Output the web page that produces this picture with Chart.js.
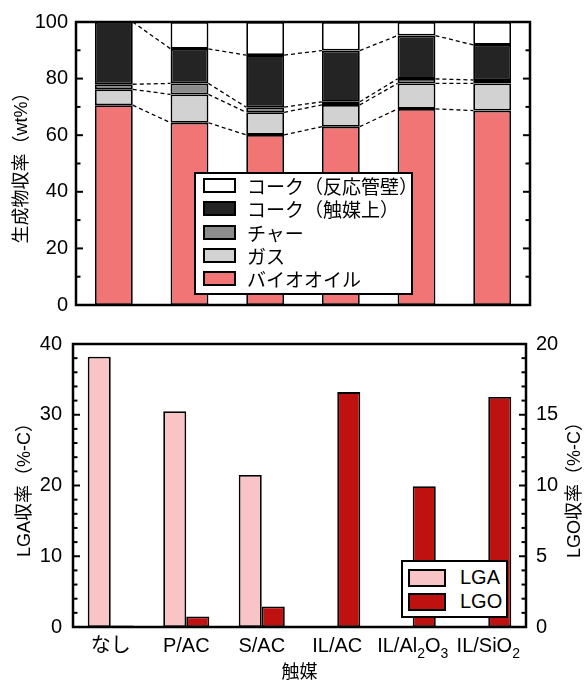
<!DOCTYPE html>
<html>
<head>
<meta charset="utf-8">
<script src="https://cdn.jsdelivr.net/npm/chart.js@4.4.1/dist/chart.umd.min.js"></script>
<style>
body { margin: 0; background: #fff; width: 585px; height: 682px; overflow: hidden; position: relative;
       font-family: "Liberation Sans", Arial, "Noto Sans CJK JP", sans-serif; }
#topChart { position: absolute; left: 0; top: 0; }
#bottomChart { position: absolute; left: 0; top: 320px; }
.legend { position: absolute; background: #fff; border: 2px solid #000; box-sizing: border-box; color: #000; }
.legend .row { display: flex; align-items: center; white-space: nowrap; }
.legend .sw { box-sizing: border-box; border: 2px solid #000; flex: none; }
</style>
</head>
<body>
<canvas id="topChart" width="585" height="320"></canvas>
<canvas id="bottomChart" width="585" height="362"></canvas>
<div id="topLegend" class="legend"></div>
<div id="bottomLegend" class="legend"></div>
<script>
// 触媒（共通のカテゴリ）
const catalysts = ['なし', 'P/AC', 'S/AC', 'IL/AC', 'IL/Al₂O₃', 'IL/SiO₂'];

// 上段：生成物収率 (wt%)、下から積み上げ
const bioOil       = [70.6, 64.4, 60.1, 63.0, 69.3, 68.7];
const gas          = [5.6, 10.0, 8.0, 7.7, 9.0, 9.6];
const charYield    = [1.8, 3.9, 1.8, 1.1, 1.6, 1.2];
const cokeCatalyst = [22.0, 12.2, 18.4, 18.1, 15.3, 12.4];
const cokeWall     = [0, 9.5, 11.7, 10.1, 4.8, 8.1];
const productLabels = ['バイオオイル', 'ガス', 'チャー', 'コーク（触媒上）', 'コーク（反応管壁）'];

// 下段：LGA / LGO 収率 (%-C)
const lgaYield = [38.2, 30.5, 21.5, 0, 0, 0];
const lgoYield = [0.1, 0.75, 1.45, 16.6, 9.95, 16.25];

// 軸の範囲と目盛り
const topTicks = [0, 20, 40, 60, 80, 100];
const lgaTicks = [0, 10, 20, 30, 40];
const lgoTicks = [0, 5, 10, 15, 20];

const productColors = ['#F27575', '#D2D2D2', '#8C8C8C', '#242424', '#FFFFFF'];
const LATIN = '"Liberation Sans", Arial, "Noto Sans CJK JP", sans-serif';
const CJK = '"Liberation Sans", "Noto Sans CJK JP", sans-serif';

Chart.defaults.color = '#000';
Chart.defaults.animation = false;

// 軸の幅を固定して、ラベルの余白を無効にする
function fixWidth(w) {
    return s => {
        s.width = w;
        s.paddingTop = 0;
        s.paddingBottom = 0;
    };
}

// 枠と内向きの目盛り
const framePlugin = {
    id: 'frame',
    afterDraw(chart, args, opts) {
        const { ctx, chartArea: a } = chart;
        ctx.save();
        ctx.strokeStyle = '#000';
        ctx.lineWidth = 2;
        (opts.ticks || []).forEach(t => {
            const scale = chart.scales[t.axis];
            const n = Math.round((scale.max - scale.min) / t.minor);
            for (let k = 0; k <= n; k++) {
                const v = scale.min + k * t.minor;
                const y = scale.getPixelForValue(v);
                const major = Math.abs(v / t.major - Math.round(v / t.major)) < 1e-6;
                const len = major ? 7 : 4.5;
                ctx.beginPath();
                if (t.side === 'left') { ctx.moveTo(a.left, y); ctx.lineTo(a.left + len, y); }
                else { ctx.moveTo(a.right, y); ctx.lineTo(a.right - len, y); }
                ctx.stroke();
            }
        });
        ctx.lineWidth = 2.5;
        ctx.strokeRect(a.left, a.top, a.right - a.left, a.bottom - a.top);
        ctx.restore();
    }
};

// 棒の間の破線
const connectorPlugin = {
    id: 'connectors',
    afterDatasetsDraw(chart) {
        const ctx = chart.ctx;
        ctx.save();
        ctx.strokeStyle = '#000';
        ctx.lineWidth = 1.3;
        ctx.setLineDash([4, 3]);
        for (let d = 0; d < 4; d++) {
            const bars = chart.getDatasetMeta(d).data;
            for (let i = 0; i < bars.length - 1; i++) {
                const p = bars[i], q = bars[i + 1];
                ctx.beginPath();
                ctx.moveTo(p.x + p.width / 2, p.y);
                ctx.lineTo(q.x - q.width / 2, q.y);
                ctx.stroke();
            }
        }
        ctx.restore();
    }
};

// 下付き文字つきのx軸ラベルと右軸タイトル
const SUBS = '₀₁₂₃₄₅₆₇₈₉';
const bottomTextPlugin = {
    id: 'bottomText',
    afterDraw(chart) {
        const { ctx, chartArea: a } = chart;
        const xs = chart.scales.x;
        ctx.save();
        ctx.fillStyle = '#000';
        ctx.textBaseline = 'middle';
        ctx.textAlign = 'left';
        const y = xs.top + 19;
        chart.data.labels.forEach((label, i) => {
            const parts = [];
            for (const ch of label) {
                const idx = SUBS.indexOf(ch);
                const sub = idx >= 0;
                const c = sub ? String(idx) : ch;
                const last = parts[parts.length - 1];
                if (last && last.sub === sub) last.t += c; else parts.push({ t: c, sub });
            }
            let w = 0;
            parts.forEach(p => {
                ctx.font = p.sub ? '14px ' + LATIN : '20px ' + LATIN;
                p.w = ctx.measureText(p.t).width;
                w += p.w;
            });
            let cx = xs.getPixelForValue(i) - w / 2;
            parts.forEach(p => {
                ctx.font = p.sub ? '14px ' + LATIN : '20px ' + LATIN;
                ctx.fillText(p.t, cx, p.sub ? y + 8 : y);
                cx += p.w;
            });
        });
        // 右軸タイトル
        ctx.font = '18px ' + CJK;
        ctx.textAlign = 'center';
        ctx.translate(575, (a.top + a.bottom) / 2);
        ctx.rotate(-Math.PI / 2);
        ctx.fillText('LGO収率（%-C）', 0, 0);
        ctx.restore();
    }
};

const topDatasets = [bioOil, gas, charYield, cokeCatalyst, cokeWall].map((vals, i) => ({
    label: productLabels[i],
    data: vals,
    backgroundColor: productColors[i],
    borderColor: '#000',
    borderWidth: 1.8,
    borderSkipped: false
}));

const topChart = new Chart(document.getElementById('topChart'), {
    type: 'bar',
    data: { labels: catalysts, datasets: topDatasets },
    options: {
        responsive: false,
        layout: { padding: { top: 22, right: 55, bottom: 15, left: 0 } },
        datasets: { bar: { categoryPercentage: 1, barPercentage: 0.5 } },
        scales: {
            x: { stacked: true, display: false },
            y: {
                stacked: true,
                min: topTicks[0], max: topTicks[topTicks.length - 1],
                afterBuildTicks: s => { s.ticks = topTicks.map(v => ({ value: v })); },
                afterFit: fixWidth(76),
                grid: { display: false, drawTicks: false },
                border: { display: false },
                ticks: { padding: 8, font: { family: LATIN, size: 20 }, color: '#000' },
                title: { display: true, text: '生成物収率（wt%）', color: '#000',
                         font: { family: CJK, size: 18, lineHeight: 1 }, padding: { top: 13, bottom: 0 } }
            }
        },
        plugins: {
            legend: { display: false },
            tooltip: { enabled: false },
            frame: { ticks: [{ axis: 'y', side: 'left', minor: 10, major: 20 },
                             { axis: 'y', side: 'right', minor: 10, major: 20 }] }
        }
    },
    plugins: [connectorPlugin, framePlugin]
});

const bottomChart = new Chart(document.getElementById('bottomChart'), {
    type: 'bar',
    data: {
        labels: catalysts,
        datasets: [
            { label: 'LGA', data: lgaYield, yAxisID: 'y', backgroundColor: '#F9C4C6',
              borderColor: '#000', borderWidth: 1.8, borderSkipped: false },
            { label: 'LGO', data: lgoYield, yAxisID: 'y2', backgroundColor: '#C01111',
              borderColor: '#000', borderWidth: 1.8, borderSkipped: false }
        ]
    },
    options: {
        responsive: false,
        layout: { padding: { top: 24, right: 0, bottom: 0, left: 0 } },
        datasets: { bar: { categoryPercentage: 0.61, barPercentage: 1 } },
        scales: {
            x: {
                grid: { display: false, drawTicks: false },
                border: { display: false },
                ticks: { display: false },
                afterFit: s => { s.height = 55; },
                title: { display: true, text: '触媒', color: '#000',
                         font: { family: CJK, size: 18, lineHeight: 1 }, padding: 0 }
            },
            y: {
                position: 'left',
                min: lgaTicks[0], max: lgaTicks[lgaTicks.length - 1],
                afterBuildTicks: s => { s.ticks = lgaTicks.map(v => ({ value: v })); },
                afterFit: fixWidth(73),
                grid: { display: false, drawTicks: false },
                border: { display: false },
                ticks: { padding: 11, font: { family: LATIN, size: 20 }, color: '#000' },
                title: { display: true, text: 'LGA収率（%-C）', color: '#000',
                         font: { family: CJK, size: 18, lineHeight: 1 }, padding: { top: 16, bottom: 0 } }
            },
            y2: {
                position: 'right',
                min: lgoTicks[0], max: lgoTicks[lgoTicks.length - 1],
                afterBuildTicks: s => { s.ticks = lgoTicks.map(v => ({ value: v })); },
                afterFit: fixWidth(59),
                grid: { display: false, drawTicks: false },
                border: { display: false },
                ticks: { padding: 10, font: { family: LATIN, size: 20 }, color: '#000' }
            }
        },
        plugins: {
            legend: { display: false },
            tooltip: { enabled: false },
            frame: { ticks: [{ axis: 'y', side: 'left', minor: 2, major: 10 },
                             { axis: 'y2', side: 'right', minor: 1, major: 5 }] }
        }
    },
    plugins: [framePlugin, bottomTextPlugin]
});

// 凡例（データセットから作る）
function buildLegend(el, datasets, box, row) {
    el.style.left = box.left + 'px';
    el.style.top = box.top + 'px';
    el.style.width = box.width + 'px';
    el.style.height = box.height + 'px';
    el.style.paddingTop = box.padTop + 'px';
    datasets.forEach(ds => {
        const r = document.createElement('div');
        r.className = 'row';
        r.style.height = row.height + 'px';
        const sw = document.createElement('div');
        sw.className = 'sw';
        sw.style.width = row.swW + 'px';
        sw.style.height = row.swH + 'px';
        sw.style.marginLeft = row.swLeft + 'px';
        sw.style.background = ds.backgroundColor;
        const t = document.createElement('span');
        t.textContent = ds.label;
        t.style.marginLeft = row.gap + 'px';
        t.style.font = row.font;
        r.appendChild(sw);
        r.appendChild(t);
        el.appendChild(r);
    });
}

buildLegend(document.getElementById('topLegend'), topChart.data.datasets.slice().reverse(),
    { left: 194, top: 172, width: 219, height: 123, padTop: 0 },
    { height: 23.3, swW: 33, swH: 15, swLeft: 7, gap: 11, font: '19px ' + CJK });

buildLegend(document.getElementById('bottomLegend'), bottomChart.data.datasets,
    { left: 401, top: 560, width: 107, height: 58, padTop: 3.5 },
    { height: 24, swW: 38, swH: 18, swLeft: 5, gap: 14, font: '20px ' + LATIN });
</script>
</body>
</html>
